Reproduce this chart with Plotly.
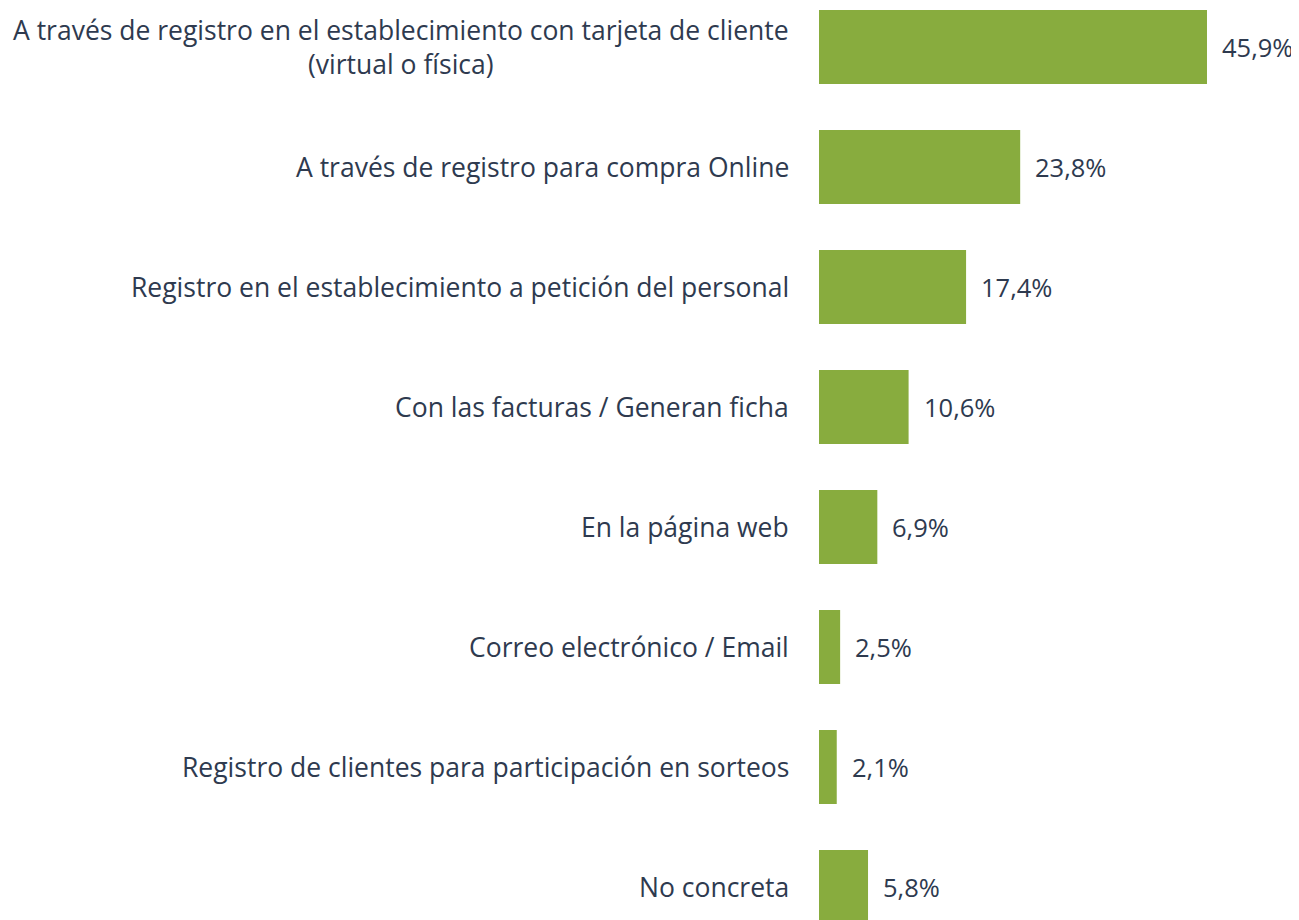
import plotly.graph_objects as go

categories = [
    "A través de registro en el establecimiento con tarjeta de cliente<br>(virtual o física)",
    "A través de registro para compra Online",
    "Registro en el establecimiento a petición del personal",
    "Con las facturas / Generan ficha",
    "En la página web",
    "Correo electrónico / Email",
    "Registro de clientes para participación en sorteos",
    "No concreta",
]
values = [45.9, 23.8, 17.4, 10.6, 6.9, 2.5, 2.1, 5.8]
value_labels = ["45,9%", "23,8%", "17,4%", "10,6%", "6,9%", "2,5%", "2,1%", "5,8%"]

BAR_COLOR = "#88ac3e"
TEXT_COLOR = "#2e3a4f"
FONT = "Open Sans"

fig = go.Figure()
fig.add_trace(go.Bar(
    x=values,
    y=list(range(len(categories))),
    orientation="h",
    marker=dict(color=BAR_COLOR, line=dict(width=0)),
    hoverinfo="skip",
))

annotations = []
for i, (cat, v, lab) in enumerate(zip(categories, values, value_labels)):
    annotations.append(dict(
        x=0, y=i, xref="x", yref="y", text=cat, showarrow=False,
        xanchor="right", yanchor="middle", align="center", xshift=-28,
        font=dict(family=FONT, size=26.5, color=TEXT_COLOR),
    ))
    annotations.append(dict(
        x=v, y=i, xref="x", yref="y", text=lab, showarrow=False,
        xanchor="left", yanchor="middle", xshift=13,
        font=dict(family=FONT, size=25.5, color=TEXT_COLOR),
    ))

fig.update_layout(
    width=1291, height=912,
    margin=dict(l=811, r=0, t=0, b=0),
    paper_bgcolor="white", plot_bgcolor="white",
    bargap=0.383,
    showlegend=False,
    annotations=annotations,
    xaxis=dict(range=[0, 480 / 8.453], visible=False, fixedrange=True),
    yaxis=dict(range=[(912 - 39) / 120, -39 / 120], visible=False, fixedrange=True),
)

fig.write_html("out.html", config={"displayModeBar": False})
